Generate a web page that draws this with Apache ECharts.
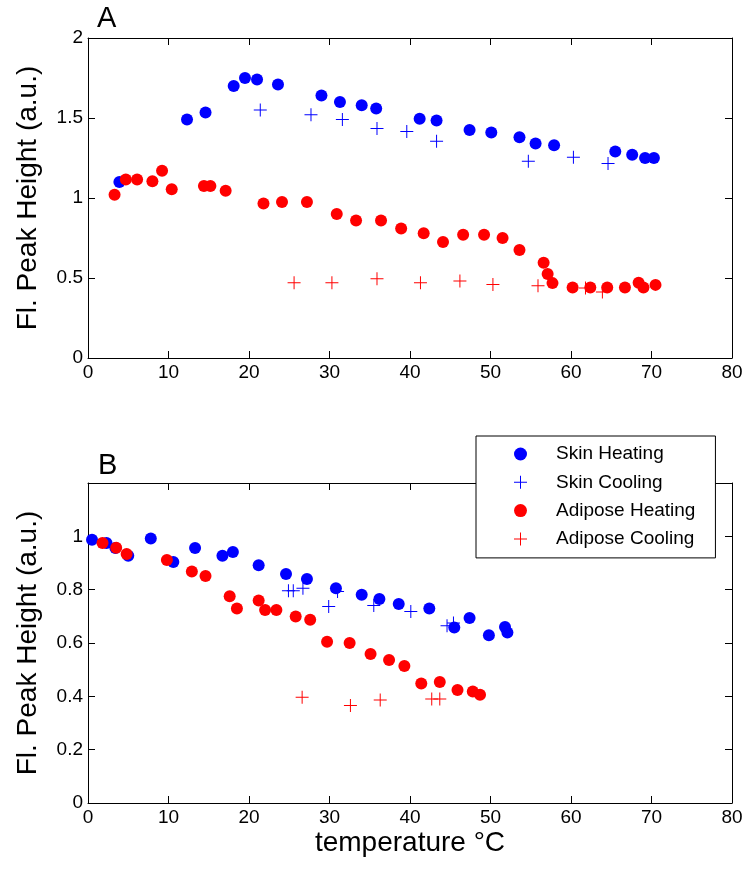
<!DOCTYPE html>
<html>
<head>
    <meta charset="UTF-8">
    <script src="https://cdn.jsdelivr.net/npm/echarts@6/dist/echarts.min.js"></script>
    <style>
    html, body { margin: 0; padding: 0; background: #fff; }
    #chart { width: 746px; height: 870px; }
    </style>
</head>
<body>
    <div id="chart"></div>
    <script>
    // ---- panel A ----
    var skinHeatA = [
        [3.9, 1.10], [12.3, 1.49], [14.6, 1.535], [18.1, 1.70], [19.5, 1.75], [21.0, 1.74],
        [23.6, 1.71], [29.0, 1.64], [31.3, 1.60], [34.0, 1.58], [35.8, 1.56], [41.2, 1.495],
        [43.3, 1.485], [47.4, 1.425], [50.1, 1.41], [53.6, 1.38], [55.6, 1.34], [57.9, 1.33],
        [65.5, 1.29], [67.6, 1.27], [69.2, 1.25], [70.3, 1.25]
    ];
    var skinCoolA = [
        [21.4, 1.55], [27.7, 1.52], [31.6, 1.49], [35.9, 1.435], [39.6, 1.415],
        [43.3, 1.355], [54.7, 1.23], [60.3, 1.255], [64.6, 1.215]
    ];
    var adiposeHeatA = [
        [3.3, 1.02], [4.7, 1.115], [6.1, 1.115], [8.0, 1.105], [9.2, 1.17], [10.4, 1.055],
        [14.4, 1.075], [15.2, 1.075], [17.1, 1.045], [21.8, 0.965], [24.1, 0.975], [27.2, 0.975],
        [30.9, 0.90], [33.3, 0.86], [36.4, 0.86], [38.9, 0.81], [41.7, 0.78], [44.1, 0.725],
        [46.6, 0.77], [49.2, 0.77], [51.5, 0.75], [53.6, 0.675], [56.6, 0.595], [57.1, 0.525],
        [57.7, 0.468], [60.2, 0.44], [62.4, 0.44], [64.5, 0.44], [66.7, 0.44], [68.4, 0.47],
        [69.0, 0.44], [70.5, 0.457]
    ];
    var adiposeCoolA = [
        [25.6, 0.47], [30.3, 0.47], [35.9, 0.495], [41.3, 0.47], [46.2, 0.482],
        [50.3, 0.46], [55.9, 0.452], [61.8, 0.437], [63.9, 0.412]
    ];
    // ---- panel B ----
    var skinHeatB = [
        [0.5, 0.987], [2.3, 0.975], [3.4, 0.956], [5.0, 0.927], [7.8, 0.992], [10.6, 0.904],
        [13.3, 0.956], [16.7, 0.927], [18.0, 0.941], [21.2, 0.892], [24.6, 0.859], [27.2, 0.84],
        [30.8, 0.805], [34.0, 0.781], [36.2, 0.765], [38.6, 0.746], [42.4, 0.729], [45.5, 0.658],
        [47.4, 0.694], [49.8, 0.629], [51.8, 0.66], [52.1, 0.639]
    ];
    var skinCoolB = [
        [24.9, 0.796], [25.5, 0.796], [26.7, 0.805], [29.9, 0.737], [31.0, 0.793],
        [35.5, 0.741], [40.1, 0.718], [44.6, 0.665], [45.4, 0.675]
    ];
    var adiposeHeatB = [
        [1.8, 0.975], [3.5, 0.957], [4.8, 0.934], [9.8, 0.911], [12.9, 0.868], [14.6, 0.851],
        [17.6, 0.775], [18.5, 0.729], [21.2, 0.759], [22.0, 0.724], [23.4, 0.724], [25.8, 0.699],
        [27.6, 0.687], [29.7, 0.605], [32.5, 0.60], [35.1, 0.559], [37.4, 0.536], [39.3, 0.514],
        [41.4, 0.448], [43.7, 0.454], [45.9, 0.424], [47.8, 0.418], [48.7, 0.406]
    ];
    var adiposeCoolB = [
        [26.6, 0.397], [32.6, 0.366], [36.3, 0.386], [42.7, 0.39], [43.7, 0.39]
    ];

    var seriesNames = ['Skin Heating', 'Skin Cooling', 'Adipose Heating', 'Adipose Cooling'];
    var xTicks = [0, 80, 10];        // min, max, interval
    var yTicksA = [0, 2, 0.5];
    var yTicksB = [0, 1.2, 0.2];

    var FONT = '"Liberation Sans", Arial, Helvetica, sans-serif';
    var BLUE = '#0000ff';
    var RED = '#ff0000';
    // '+' marker drawn as a thin filled cross
    var PLUS = 'path://M6,0H7V6H13V7H7V13H6V7H0V6H6Z';

    function xAxisFor(grid, pos, withLabel, name) {
        return {
            type: 'value', gridIndex: grid, position: pos,
            min: xTicks[0], max: xTicks[1], interval: xTicks[2],
            axisLine: { show: true, onZero: false, lineStyle: { color: '#000', width: 1 } },
            axisTick: { show: true, inside: true, length: 7, lineStyle: { color: '#000' } },
            axisLabel: { show: withLabel, color: '#000', fontSize: 19, fontFamily: FONT, margin: 5 },
            splitLine: { show: false },
            name: name || '',
            nameLocation: 'middle',
            nameGap: 26,
            nameTextStyle: { color: '#000', fontSize: 28, fontFamily: FONT }
        };
    }

    function yAxisFor(grid, pos, ticks, withLabel, name) {
        return {
            type: 'value', gridIndex: grid, position: pos,
            min: ticks[0], max: ticks[1], interval: ticks[2],
            axisLine: { show: true, onZero: false, lineStyle: { color: '#000', width: 1 } },
            axisTick: { show: true, inside: true, length: 7, lineStyle: { color: '#000' } },
            axisLabel: {
                show: withLabel, color: '#000', fontSize: 19, fontFamily: FONT, margin: 5,
                // B has room up to 1.2 but no label there
                formatter: function (v) { return v > 1.1 && ticks[1] < 2 ? '' : String(+v.toFixed(2)); }
            },
            splitLine: { show: false },
            name: name || '',
            nameLocation: 'middle',
            nameGap: 46,
            nameTextStyle: { color: '#000', fontSize: 28, fontFamily: FONT }
        };
    }

    function scatter(name, data, grid, color, cross) {
        return {
            name: name,
            type: 'scatter',
            xAxisIndex: grid * 2,
            yAxisIndex: grid * 2,
            data: data,
            symbol: cross ? PLUS : 'circle',
            symbolSize: cross ? 13 : 12,
            itemStyle: { color: color, opacity: 1 },
            emphasis: { disabled: true },
            silent: true,
            animation: false
        };
    }

    var option = {
        animation: false,
        backgroundColor: '#fff',
        textStyle: { fontFamily: FONT },
        title: [
            { text: 'A', left: 97, top: 4, padding: 0, textStyle: { fontSize: 29, fontWeight: 'normal', color: '#000', fontFamily: FONT } },
            { text: 'B', left: 98, top: 451, padding: 0, textStyle: { fontSize: 29, fontWeight: 'normal', color: '#000', fontFamily: FONT } }
        ],
        grid: [
            { left: 88, top: 38, width: 644, height: 320 },
            { left: 88, top: 483, width: 644, height: 320 }
        ],
        xAxis: [
            xAxisFor(0, 'bottom', true),
            xAxisFor(0, 'top', false),
            xAxisFor(1, 'bottom', true, 'temperature \u00B0C'),
            xAxisFor(1, 'top', false)
        ],
        yAxis: [
            yAxisFor(0, 'left', yTicksA, true, 'Fl. Peak Height (a.u.)'),
            yAxisFor(0, 'right', yTicksA, false),
            yAxisFor(1, 'left', yTicksB, true, 'Fl. Peak Height (a.u.)'),
            yAxisFor(1, 'right', yTicksB, false)
        ],
        legend: {
            orient: 'vertical',
            left: 476,
            top: 436,
            data: [
                { name: seriesNames[0], icon: 'circle' },
                { name: seriesNames[1], icon: PLUS },
                { name: seriesNames[2], icon: 'circle' },
                { name: seriesNames[3], icon: PLUS }
            ],
            itemWidth: 13,
            itemHeight: 13,
            itemGap: 8.3,
            padding: [8, 20, 9, 38],
            borderColor: '#000',
            borderWidth: 1,
            backgroundColor: '#fff',
            selectedMode: false,
            textStyle: { fontSize: 19, lineHeight: 20, color: '#000', fontFamily: FONT, padding: [0, 0, 0, 24] }
        },
        series: [
            scatter(seriesNames[0], skinHeatA, 0, BLUE, false),
            scatter(seriesNames[1], skinCoolA, 0, BLUE, true),
            scatter(seriesNames[2], adiposeHeatA, 0, RED, false),
            scatter(seriesNames[3], adiposeCoolA, 0, RED, true),
            scatter(seriesNames[0], skinHeatB, 1, BLUE, false),
            scatter(seriesNames[1], skinCoolB, 1, BLUE, true),
            scatter(seriesNames[2], adiposeHeatB, 1, RED, false),
            scatter(seriesNames[3], adiposeCoolB, 1, RED, true)
        ]
    };

    var myChart = echarts.init(document.getElementById('chart'));
    myChart.setOption(option);
    </script>
</body>
</html>
